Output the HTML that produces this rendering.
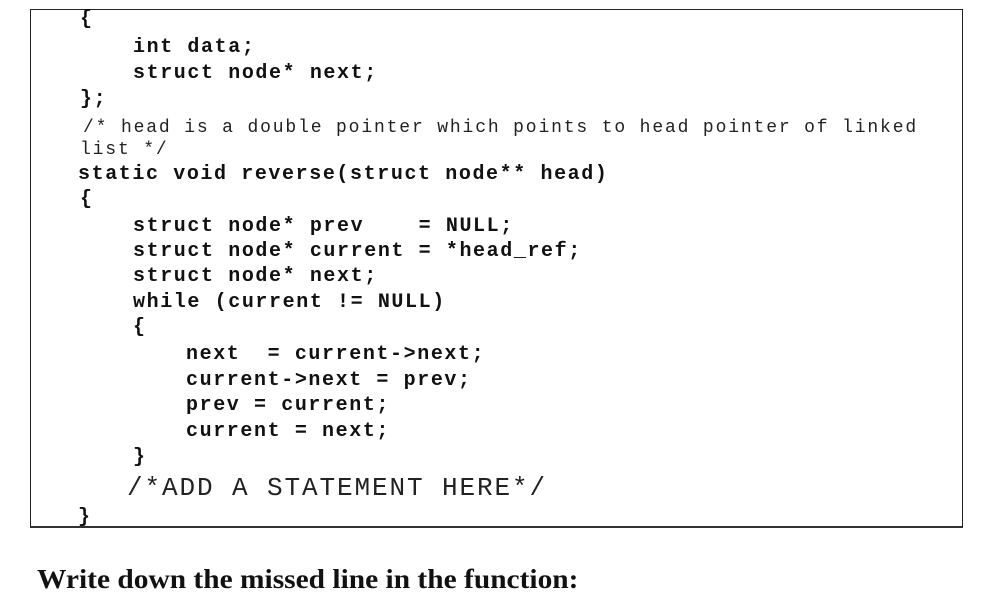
<!DOCTYPE html>
<html><head><meta charset="utf-8"><style>
html,body{margin:0;padding:0;background:#fff;}
body{width:1000px;height:607px;position:relative;overflow:hidden;}
.box{position:absolute;left:30px;top:9px;width:931px;height:516px;border:1.5px solid #222;border-bottom:2.5px solid #333;}
.l{position:absolute;font-family:"Liberation Mono",monospace;font-weight:bold;font-size:20px;letter-spacing:1.6px;line-height:20px;color:#111;white-space:pre;}
.c{font-weight:normal;font-size:18px;letter-spacing:1.85px;color:#222;}
.a{font-weight:normal;font-size:26px;letter-spacing:1.9px;line-height:26px;color:#222;}
.q{position:absolute;left:37px;top:564px;font-family:"Liberation Serif",serif;font-weight:bold;font-size:27px;color:#111;white-space:pre;transform:scaleX(1.09);transform-origin:0 0;}
</style></head><body>
<div class="box"></div>
<div class="l" style="left:80px;top:10px">{</div>
<div class="l" style="left:133px;top:38px">int data;</div>
<div class="l" style="left:133px;top:64px">struct node* next;</div>
<div class="l" style="left:80px;top:90px">};</div>
<div class="l c" style="left:83px;top:118px">/* head is a double pointer which points to head pointer of linked</div>
<div class="l c" style="left:80px;top:140px">list */</div>
<div class="l" style="left:78px;top:165px">static void reverse(struct node** head)</div>
<div class="l" style="left:80px;top:190px">{</div>
<div class="l" style="left:133px;top:217px">struct node* prev    = NULL;</div>
<div class="l" style="left:133px;top:242px">struct node* current = *head_ref;</div>
<div class="l" style="left:133px;top:267px">struct node* next;</div>
<div class="l" style="left:133px;top:293px">while (current != NULL)</div>
<div class="l" style="left:133px;top:318px">{</div>
<div class="l" style="left:186px;top:345px">next  = current-&gt;next;</div>
<div class="l" style="left:186px;top:371px">current-&gt;next = prev;</div>
<div class="l" style="left:186px;top:396px">prev = current;</div>
<div class="l" style="left:186px;top:422px">current = next;</div>
<div class="l" style="left:133px;top:448px">}</div>
<div class="l a" style="left:127px;top:475px">/*ADD A STATEMENT HERE*/</div>
<div class="l" style="left:78px;top:508px">}</div>
<div class="q">Write down the missed line in the function:</div>
</body></html>
